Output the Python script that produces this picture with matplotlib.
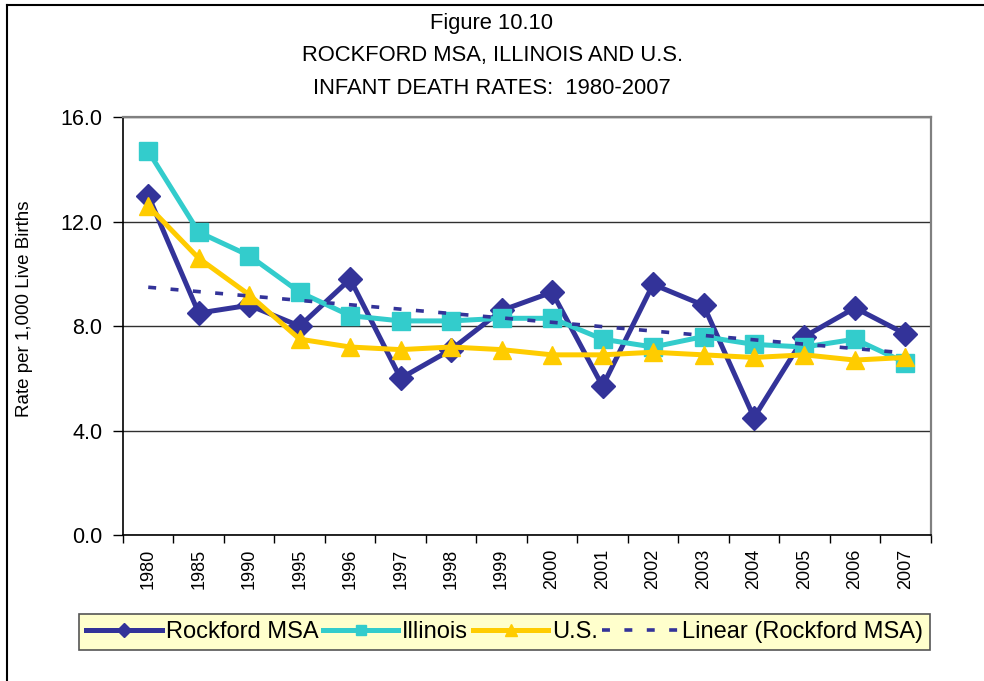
import numpy as np
import matplotlib
matplotlib.use("Agg")
import matplotlib.pyplot as plt
from matplotlib.lines import Line2D

plt.rcParams['font.family'] = ['Liberation Sans', 'DejaVu Sans']

years = ["1980", "1985", "1990", "1995", "1996", "1997", "1998", "1999",
         "2000", "2001", "2002", "2003", "2004", "2005", "2006", "2007"]
rockford = [13.0, 8.5, 8.8, 8.0, 9.8, 6.0, 7.1, 8.6,
            9.3, 5.7, 9.6, 8.8, 4.5, 7.6, 8.7, 7.7]
illinois = [14.7, 11.6, 10.7, 9.3, 8.4, 8.2, 8.2, 8.3,
            8.3, 7.5, 7.2, 7.6, 7.3, 7.2, 7.5, 6.6]
us = [12.6, 10.6, 9.2, 7.5, 7.2, 7.1, 7.2, 7.1,
      6.9, 6.9, 7.0, 6.9, 6.8, 6.9, 6.7, 6.8]
y_ticks = [0.0, 4.0, 8.0, 12.0, 16.0]

NAVY = "#333399"
TEAL = "#33CCCC"
GOLD = "#FFCC00"

fig = plt.figure(figsize=(9.84, 6.81), dpi=100)
ax = fig.add_axes([0.125, 0.2144, 0.8208, 0.6134])

x = np.arange(len(years))

ax.plot(x, rockford, color=NAVY, lw=3.6, marker="D", ms=12.5,
        mfc=NAVY, mec=NAVY, mew=1, zorder=3, label="Rockford MSA")
ax.plot(x, illinois, color=TEAL, lw=3.6, marker="s", ms=13,
        mfc=TEAL, mec=TEAL, mew=1, zorder=4, label="Illinois")
ax.plot(x, us, color=GOLD, lw=3.6, marker="^", ms=13.5,
        mfc=GOLD, mec=GOLD, mew=1, zorder=5, label="U.S.")

# Least-squares trend of the Rockford series
slope, intercept = np.polyfit(x, rockford, 1)
trend = slope * x + intercept
ax.plot(x, trend, color=NAVY, lw=2.6, linestyle=(0, (2.2, 4.0)),
        dash_capstyle="butt", zorder=6, label="Linear (Rockford MSA)")

ax.set_xlim(-0.5, len(years) - 0.5)
ax.set_ylim(0, 16)
ax.set_yticks(y_ticks)
ax.set_yticklabels([f"{v:.1f}" for v in y_ticks], fontsize=15.5)
ax.yaxis.grid(True, color="#303030", lw=1.0)
ax.set_axisbelow(True)

ax.set_xticks(x)
ax.set_xticklabels(years, rotation=90, fontsize=13)
ax.set_xticks(np.arange(-0.5, len(years)), minor=True)
ax.tick_params(axis="x", which="major", length=0, pad=10)
ax.tick_params(axis="x", which="minor", length=6, width=1, color="#000000")
ax.tick_params(axis="y", length=7, width=1, pad=8)

for side in ("left", "bottom"):
    ax.spines[side].set_color("#000000")
    ax.spines[side].set_linewidth(1.2)
for side in ("top", "right"):
    ax.spines[side].set_color("#808080")
    ax.spines[side].set_linewidth(1.6)

fig.text(25 / 984, 1 - 309 / 681, "Rate per 1,000 Live Births",
         rotation=90, ha="center", va="center", fontsize=13.5)

title_lines = ["Figure 10.10", "ROCKFORD MSA, ILLINOIS AND U.S.",
               "INFANT DEATH RATES:  1980-2007"]
for i, line in enumerate(title_lines):
    fig.text(0.5, 1 - (23 + 33 * i) / 681, line, ha="center", va="center",
             fontsize=15.8)

handles = [
    Line2D([], [], color=NAVY, lw=3.6, marker="D", ms=7, mfc=NAVY, mec=NAVY),
    Line2D([], [], color=TEAL, lw=3.6, marker="s", ms=7.5, mfc=TEAL, mec=TEAL),
    Line2D([], [], color=GOLD, lw=3.6, marker="^", ms=8.5, mfc=GOLD, mec=GOLD),
    Line2D([], [], color=NAVY, lw=2.6, linestyle=(0, (2.2, 4.0))),
]
labels = ["Rockford MSA", "Illinois", "U.S.", "Linear (Rockford MSA)"]
leg = fig.legend(handles, labels, loc="center",
                 bbox_to_anchor=(504.5 / 984, 49 / 681), ncol=4,
                 fontsize=17, frameon=True, fancybox=False,
                 handlelength=3.2, handletextpad=0.15, columnspacing=0.2,
                 borderpad=0.3, borderaxespad=0)
frame = leg.get_frame()
frame.set_facecolor("#FFFFCC")
frame.set_edgecolor("#555555")
frame.set_linewidth(1.2)
frame.set_alpha(1)

# Outer frame of the figure (top and left edges)
fig.add_artist(Line2D([7 / 984, 1.0], [1 - 5 / 681, 1 - 5 / 681],
                      transform=fig.transFigure, color="#000000", lw=1.5))
fig.add_artist(Line2D([7 / 984, 7 / 984], [0.0, 1 - 5 / 681],
                      transform=fig.transFigure, color="#000000", lw=1.5))

fig.savefig("out.png", dpi=100)
